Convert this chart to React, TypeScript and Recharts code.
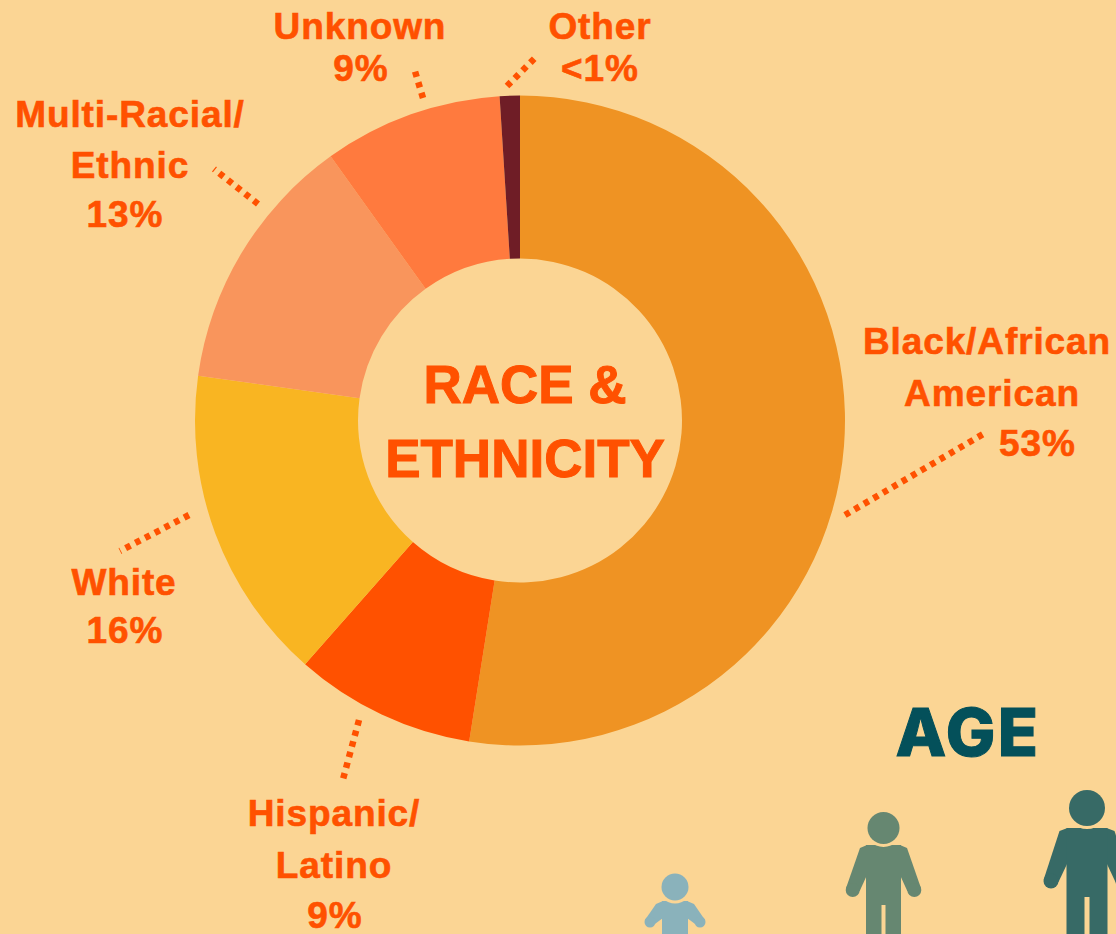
import React from 'react';
import { PieChart, Pie, Cell } from 'recharts';

const categories = ['Black/African American', 'Hispanic/Latino', 'White', 'Multi-Racial/Ethnic', 'Unknown', 'Other'];
const shares = [52.5, 9, 15.7, 12.9, 8.9, 1];
const colors = ['#ef9323', '#ff5100', '#f9b522', '#f9955c', '#ff7a3e', '#6f1d26'];

const data = categories.map((name, i) => ({ name, value: shares[i] }));

const BG = '#fbd594';
const ORANGE = '#ff5100';

// label lines: text, centre x, baseline
const labelLines: [string, number, number][] = [
  ['Black/African', 987, 354],
  ['American', 992, 406],
  ['53%', 1037.5, 456],
  ['Hispanic/', 334, 826],
  ['Latino', 334, 878],
  ['9%', 335, 928],
  ['White', 124, 595],
  ['16%', 125, 643],
  ['Multi-Racial/', 130, 127],
  ['Ethnic', 130, 178],
  ['13%', 125, 227],
  ['Unknown', 360, 39],
  ['9%', 361, 81],
  ['Other', 600, 39],
  ['<1%', 600, 81],
];

const leaders = [
  [845, 515, 985, 433],
  [359, 720, 342, 783],
  [189, 515, 120, 551],
  [258, 204, 214, 169],
  [423, 98, 414, 68],
  [507, 86, 538, 55],
];

const font = '"Liberation Sans", Arial, sans-serif';

function Person({ cx, headY, r, top, halfW, shoulder, handX, handY, handR, armpitY, gapY, gapW, color }: any) {
  const arm = (side: number) => {
    const sx = cx + side * (halfW + shoulder);
    const sy = top + 3;
    const hx = cx + side * handX;
    const dx = hx - sx;
    const dy = handY - sy;
    const len = Math.hypot(dx, dy);
    const nx = (dy / len) * handR * side;
    const ny = (-dx / len) * handR * side;
    const pts = [
      [cx + side * (halfW - 1), top],
      [sx, sy],
      [hx + nx, handY + ny],
      [hx - nx, handY - ny],
      [cx + side * (halfW - 1), armpitY],
    ];
    return (
      <g>
        <polygon points={pts.map((p) => p.join(',')).join(' ')} fill={color} />
        <circle cx={hx} cy={handY} r={handR} fill={color} />
      </g>
    );
  };
  return (
    <g>
      {arm(-1)}
      {arm(1)}
      <rect x={cx - halfW} y={top} width={halfW * 2} height={934 - top} fill={color} />
      <rect x={cx - gapW / 2} y={gapY} width={gapW} height={934 - gapY} fill={BG} />
      <circle cx={cx} cy={headY} r={r + 3} fill={BG} />
      <circle cx={cx} cy={headY} r={r} fill={color} />
    </g>
  );
}

export default function App() {
  return (
    <div style={{ position: 'absolute', left: 0, top: 0, width: 1116, height: 934, background: BG, overflow: 'hidden' }}>
      <PieChart width={1116} height={934} margin={{ top: 0, right: 0, bottom: 0, left: 0 }}>
        <Pie
          data={data}
          dataKey="value"
          nameKey="name"
          cx={520}
          cy={420.5}
          innerRadius={162}
          outerRadius={325}
          startAngle={90}
          endAngle={-270}
          stroke="none"
          isAnimationActive={false}
        >
          {data.map((d, i) => (
            <Cell key={d.name} fill={colors[i]} />
          ))}
        </Pie>
        {leaders.map((l, i) => (
          <line key={i} x1={l[0]} y1={l[1]} x2={l[2]} y2={l[3]} stroke={ORANGE} strokeWidth={6.5} strokeDasharray="5.5 5.5" />
        ))}
        {labelLines.map(([t, x, y]) => (
          <text key={`${t}-${y}`} x={x} y={y} textAnchor="middle" fontFamily={font} fontWeight={700} fontSize={37} letterSpacing={0.9} fill={ORANGE} stroke={ORANGE} strokeWidth={0.6}>
            {t}
          </text>
        ))}
        <text x={525} y={403} textAnchor="middle" fontFamily={font} fontWeight={700} fontSize={53} fill={ORANGE} stroke={ORANGE} strokeWidth={1}>
          RACE &amp;
        </text>
        <text x={525} y={477} textAnchor="middle" fontFamily={font} fontWeight={700} fontSize={53} fill={ORANGE} stroke={ORANGE} strokeWidth={1}>
          ETHNICITY
        </text>
        <text x={968} y={756} textAnchor="middle" fontFamily="Inter, sans-serif" fontWeight={800} fontSize={66} letterSpacing={2.5} fill="#04505a" stroke="#04505a" strokeWidth={1}>
          AGE
        </text>
        <Person cx={675} headY={887} r={13.5} top={901} halfW={13} shoulder={6} handX={25} handY={922} handR={5.5} armpitY={918} gapY={940} gapW={3} color="#8ab2bb" />
        <Person cx={883.5} headY={828} r={16} top={845} halfW={17.5} shoulder={6} handX={30.8} handY={890} handR={7} armpitY={875} gapY={905} gapW={4} color="#668771" />
        <Person cx={1087} headY={808} r={18} top={828} halfW={20.5} shoulder={7} handX={36} handY={881} handR={7.5} armpitY={863} gapY={897} gapW={5} color="#376a66" />
      </PieChart>
    </div>
  );
}
